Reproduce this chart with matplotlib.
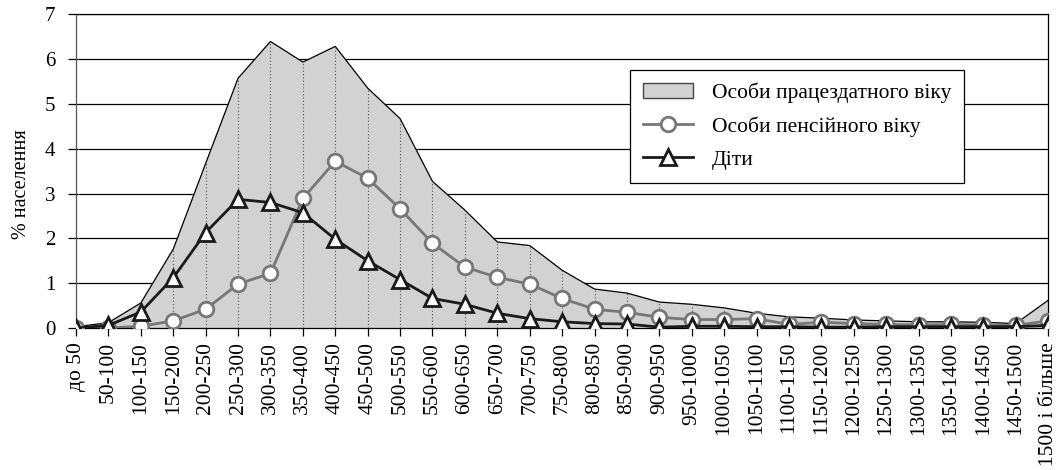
import matplotlib.pyplot as plt
from matplotlib.patches import Patch
from matplotlib.lines import Line2D

plt.rcParams['font.family'] = ['Liberation Serif', 'DejaVu Serif']

categories = ["до 50", "50-100", "100-150", "150-200", "200-250", "250-300",
              "300-350", "350-400", "400-450", "450-500", "500-550", "550-600",
              "600-650", "650-700", "700-750", "750-800", "800-850", "850-900",
              "900-950", "950-1000", "1000-1050", "1050-1100", "1100-1150",
              "1150-1200", "1200-1250", "1250-1300", "1300-1350", "1350-1400",
              "1400-1450", "1450-1500", "1500 і більше"]

working = [0.03, 0.12, 0.56, 1.76, 3.67, 5.57, 6.39, 5.93, 6.28, 5.35, 4.67,
           3.27, 2.63, 1.92, 1.84, 1.29, 0.87, 0.78, 0.58, 0.53, 0.45, 0.33,
           0.25, 0.22, 0.18, 0.16, 0.14, 0.14, 0.13, 0.10, 0.62]

pension = [0.0, 0.0, 0.04, 0.16, 0.42, 0.98, 1.22, 2.89, 3.72, 3.34, 2.66,
           1.89, 1.36, 1.13, 0.98, 0.66, 0.42, 0.35, 0.24, 0.19, 0.19, 0.21,
           0.08, 0.13, 0.10, 0.08, 0.07, 0.08, 0.07, 0.06, 0.16]

children = [0.0, 0.06, 0.36, 1.12, 2.13, 2.87, 2.80, 2.57, 1.98, 1.50, 1.08,
            0.66, 0.53, 0.33, 0.21, 0.14, 0.10, 0.09, 0.02, 0.04, 0.04, 0.03,
            0.03, 0.02, 0.02, 0.03, 0.03, 0.03, 0.03, 0.03, 0.06]

x = list(range(len(categories)))

fig = plt.figure(figsize=(10.59, 4.70), dpi=100)
ax = fig.add_axes([0.0718, 0.302, 0.918, 0.668])

ax.set_axisbelow(True)
ax.yaxis.grid(True, color="black", linewidth=0.9)

ax.fill_between(x, working, 0, facecolor="#d2d2d2", edgecolor="none", zorder=2)
ax.plot(x, working, color="black", linewidth=0.9, zorder=3)
ax.vlines(x[1:-1], 0, working[1:-1], colors="#555555", linestyles=(0, (1, 2)),
          linewidth=0.8, zorder=3)

ax.plot(x, pension, color="#777777", linewidth=2, marker="o", markersize=10.5,
        markerfacecolor="white", markeredgecolor="#777777", markeredgewidth=2,
        zorder=4)
ax.plot(x, children, color="#1a1a1a", linewidth=2, marker="^", markersize=11,
        markerfacecolor="white", markeredgecolor="#1a1a1a", markeredgewidth=2,
        zorder=5)

ax.set_xlim(0, len(categories) - 1)
ax.set_ylim(0, 7)
ax.set_yticks(range(8))
ax.set_xticks(x)
ax.set_xticklabels(categories, rotation=90, fontsize=15.5)
ax.tick_params(axis="y", labelsize=15, length=6, width=0.9, direction="out", pad=9)
ax.tick_params(axis="x", length=6, width=0.9, direction="out", pad=4)
ax.set_ylabel("% населення", fontsize=14.5)
ax.yaxis.set_label_coords(-0.046, 0.46)

for side in ["top", "right", "left", "bottom"]:
    ax.spines[side].set_color("black")
    ax.spines[side].set_linewidth(0.9)
ax.spines["left"].set_color("#555555")

handles = [
    Patch(facecolor="#d2d2d2", edgecolor="#444444", linewidth=1),
    Line2D([], [], color="#777777", linewidth=2, marker="o", markersize=10.5,
           markerfacecolor="white", markeredgecolor="#777777", markeredgewidth=2),
    Line2D([], [], color="#1a1a1a", linewidth=2, marker="^", markersize=11,
           markerfacecolor="white", markeredgecolor="#1a1a1a", markeredgewidth=2),
]
labels = ["Особи працездатного віку", "Особи пенсійного віку", "Діти"]
leg = ax.legend(handles, labels, loc="upper left", bbox_to_anchor=(0.570, 0.822),
                fontsize=15.5, frameon=True, fancybox=False, framealpha=1,
                edgecolor="black", handlelength=2.3, labelspacing=0.6,
                borderpad=0.6, handletextpad=0.9, borderaxespad=0)
leg.get_frame().set_linewidth(0.9)
leg.set_zorder(10)

fig.savefig("out.png", dpi=100)
